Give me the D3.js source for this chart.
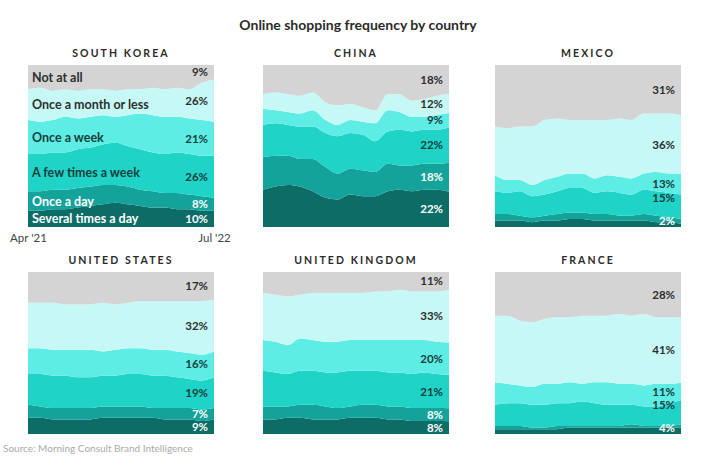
<!DOCTYPE html>
<html>
<head>
<meta charset="utf-8">
<script src="https://cdn.jsdelivr.net/npm/d3@7"></script>
<style>
  html, body { margin: 0; padding: 0; background: #ffffff; }
  svg { display: block; font-family: Lato, "Open Sans", sans-serif; }
</style>
</head>
<body>
<svg id="chart" width="713" height="471"></svg>
<script>
// ---------------- DATA ----------------
const months = ["2021-04","2021-05","2021-06","2021-07","2021-08","2021-09","2021-10","2021-11",
                "2021-12","2022-01","2022-02","2022-03","2022-04","2022-05","2022-06","2022-07"];

const categories = ["Not at all","Once a month or less","Once a week","A few times a week","Once a day","Several times a day"];

const countries = ["South Korea","China","Mexico","United States","United Kingdom","France"];

const southKorea = {
  "Not at all":           [15,14,16,15,16,15,15,16,15,15,14,15,14,15,11,9],
  "Once a month or less": [19,21,18,17,17,17,16,16,16,15,17,17,18,18,23,26],
  "Once a week":          [21,20,20,22,19,19,18,16,19,22,23,23,22,22,22,21],
  "A few times a week":   [23,23,23,23,24,24,25,26,25,25,24,24,25,25,25,26],
  "Once a day":           [12,12,12,12,12,12,12,11,11,10,10,9,10,9,9,8],
  "Several times a day":  [10,10,11,11,12,13,14,15,14,13,12,12,11,11,10,10]
};
const china = {
  "Not at all":           [18,17,18,19,17,23,25,24,26,28,18,18,22,21,19,18],
  "Once a month or less": [9,11,11,11,11,11,12,10,9,8,10,11,10,11,12,12],
  "Once a week":          [10,8,8,8,10,8,7,8,8,11,13,11,9,8,9,9],
  "A few times a week":   [20,20,19,20,20,21,23,22,22,19,20,22,21,21,21,22],
  "Once a day":           [20,19,18,17,20,19,16,16,16,15,17,15,16,16,16,18],
  "Several times a day":  [23,25,26,25,22,18,17,20,19,19,22,23,22,23,23,22]
};
const mexico = {
  "Not at all":           [38,39,38,38,34,33,34,34,34,34,33,34,30,30,30,31],
  "Once a month or less": [30,32,33,36,37,36,33,33,36,34,36,36,37,36,37,36],
  "Once a week":          [10,8,7,7,9,9,9,9,9,10,10,10,10,12,12,13],
  "A few times a week":   [14,13,15,13,13,14,15,15,13,14,14,13,15,15,15,15],
  "Once a day":           [4,4,3,3,3,4,4,4,4,4,3,3,4,4,3,3],
  "Several times a day":  [4,4,4,3,4,4,5,5,4,4,4,4,4,3,3,2]
};
const unitedStates = {
  "Not at all":           [19,19,19,20,20,20,19,20,19,18,18,18,18,18,18,17],
  "Once a month or less": [28,28,29,28,28,28,30,28,28,29,30,30,31,32,33,32],
  "Once a week":          [16,16,16,16,17,17,15,16,16,16,16,16,16,16,16,16],
  "A few times a week":   [19,20,20,20,19,19,19,19,20,20,20,20,19,18,18,19],
  "Once a day":           [8,7,7,7,7,7,7,7,7,7,6,7,7,7,7,7],
  "Several times a day":  [10,10,9,9,9,9,10,10,10,10,10,9,9,9,8,9]
};
const unitedKingdom = {
  "Not at all":           [13,14,15,14,13,13,13,13,13,12,12,11,12,12,12,11],
  "Once a month or less": [29,29,30,27,29,30,30,29,29,30,30,31,30,30,31,33],
  "Once a week":          [19,19,18,20,19,19,19,19,19,19,20,20,21,20,20,20],
  "A few times a week":   [22,21,20,21,21,21,22,22,21,21,21,21,21,22,21,21],
  "Once a day":           [8,8,7,8,9,8,7,7,8,8,8,8,8,8,8,8],
  "Several times a day":  [9,9,10,10,9,9,9,10,10,10,9,9,8,8,8,8]
};
const france = {
  "Not at all":           [27,27,30,31,29,28,28,27,27,27,26,27,26,28,28,28],
  "Once a month or less": [41,42,40,40,40,41,40,42,41,41,43,42,44,41,41,41],
  "Once a week":          [14,12,11,11,13,12,13,11,13,14,13,13,13,14,12,11],
  "A few times a week":   [13,14,14,14,14,14,14,15,14,13,13,12,12,12,14,15],
  "Once a day":           [2,2,2,1,1,2,1,1,1,1,1,2,1,1,1,2],
  "Several times a day":  [3,3,3,3,3,3,4,4,4,4,4,4,4,4,4,4]
};
const countryData = [southKorea, china, mexico, unitedStates, unitedKingdom, france];

// end labels not shown in the original
const hiddenLabels = { "Mexico": ["Once a day"], "France": ["Once a day"] };

const colors = ["#d4d4d4","#c6f9f6","#5eede5","#1fd3c6","#14a39a","#0c6d67"];
const labelColors = ["#2e2e2e","#2e2e2e","#163f3d","#163f3d","#ffffff","#ffffff"];

// ---------------- LAYOUT ----------------
const svg = d3.select("#chart");
const colX = [28, 263, 495];
const rowY = [65, 272];
const pw = 186, ph = 162;

svg.append("text")
  .attr("x", 358).attr("y", 30)
  .attr("text-anchor", "middle")
  .attr("font-size", 14).attr("font-weight", 700)
  .attr("fill", "#2b2b2b")
  .text("Online shopping frequency by country");

const parse = d3.timeParse("%Y-%m");
const dates = months.map(parse);

const x = d3.scaleTime().domain(d3.extent(dates)).range([0, pw]);
const y = d3.scaleLinear().domain([0, 1]).range([ph, 0]);

const stack = d3.stack()
  .keys(categories.slice().reverse())
  .offset(d3.stackOffsetExpand)
  .order(d3.stackOrderNone);

const area = d3.area()
  .x(d => x(d.data.date))
  .y0(d => y(d[0]))
  .y1(d => y(d[1]))
  .curve(d3.curveMonotoneX);

const pctSize = 11.5, pctGap = 11.5;

countries.forEach((name, ci) => {
  const data = countryData[ci];
  const rows = dates.map((dt, i) => {
    const r = { date: dt };
    categories.forEach(c => r[c] = data[c][i]);
    return r;
  });
  const series = stack(rows);
  const gx = colX[ci % 3], gy = rowY[Math.floor(ci / 3)];
  const g = svg.append("g").attr("transform", `translate(${gx},${gy})`);

  // country title
  svg.append("text")
    .attr("x", gx + pw / 2).attr("y", gy - 8)
    .attr("text-anchor", "middle")
    .attr("font-size", 10.5).attr("font-weight", 700)
    .attr("letter-spacing", "2.1px")
    .attr("fill", "#2b2b2b")
    .text(name.toUpperCase());

  g.selectAll("path.layer")
    .data(series)
    .join("path")
    .attr("class", "layer")
    .attr("d", area)
    .attr("fill", s => colors[categories.indexOf(s.key)]);

  // percentage labels at the end
  const last = series.map(s => {
    const p = s[s.length - 1];
    return { key: s.key, mid: (y(p[0]) + y(p[1])) / 2, value: data[s.key][data[s.key].length - 1] };
  });
  let prev = ph - 6 + pctGap;
  last.forEach(l => {
    let yy = Math.min(l.mid, ph - 6);
    if (yy > prev - pctGap) yy = prev - pctGap;
    l.y = yy; prev = yy;
  });
  const hidden = hiddenLabels[name] || [];
  g.selectAll("text.pct")
    .data(last.filter(l => !hidden.includes(l.key)))
    .join("text")
    .attr("class", "pct")
    .attr("x", pw - 6).attr("y", l => l.y)
    .attr("dy", "0.36em")
    .attr("text-anchor", "end")
    .attr("font-size", pctSize).attr("font-weight", 700)
    .attr("fill", l => labelColors[categories.indexOf(l.key)])
    .text(l => l.value + "%");

  if (ci === 0) {
    const first = series.map(s => {
      const p = s[0];
      return { key: s.key, mid: (y(p[0]) + y(p[1])) / 2 };
    });
    let pv = ph - 9 + 13;
    first.forEach(l => {
      let yy = Math.min(l.mid, ph - 9);
      if (yy > pv - 13) yy = pv - 13;
      l.y = yy; pv = yy;
    });
    g.selectAll("text.cat")
      .data(first)
      .join("text")
      .attr("class", "cat")
      .attr("x", 4).attr("y", l => l.y)
      .attr("dy", "0.36em")
      .attr("font-size", 12.5).attr("font-weight", 700)
      .attr("fill", l => labelColors[categories.indexOf(l.key)])
      .text(l => l.key);

    const axis = d3.axisBottom(x)
      .tickValues([dates[0], dates[dates.length - 1]])
      .tickFormat(d3.timeFormat("%b '%y"))
      .tickSize(0).tickPadding(7);
    const ag = g.append("g").attr("transform", `translate(0,${ph})`).call(axis);
    ag.select(".domain").remove();
    ag.selectAll("text")
      .attr("font-family", "Lato, 'Open Sans', sans-serif")
      .attr("font-size", 11.5).attr("fill", "#444");
  }
});

svg.append("text")
  .attr("x", 3).attr("y", 452)
  .attr("font-size", 10).attr("fill", "#aaaaaa")
  .text("Source: Morning Consult Brand Intelligence");
</script>
</body>
</html>
